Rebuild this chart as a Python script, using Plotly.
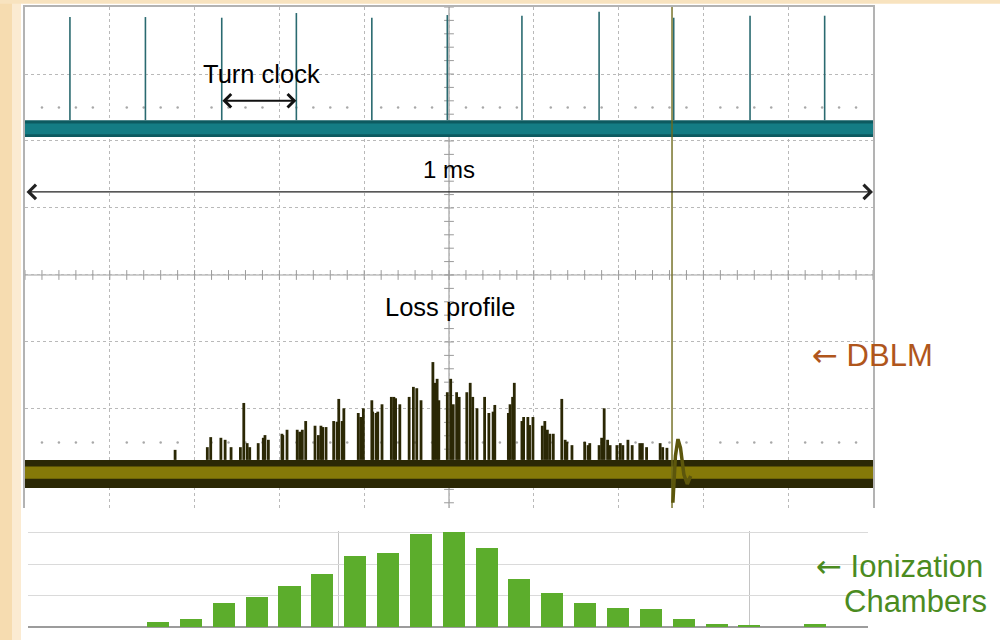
import plotly.graph_objects as go

# ---------------- Oscilloscope (time in µs, 100 µs/div; vertical in divisions) -------------
clock_t = [53, 142, 232, 320, 409, 498, 586, 677, 765, 855, 943]
clock_peak = [3.85, 3.85, 3.84, 3.91, 3.84, 3.88, 3.87, 3.93, 3.84, 3.87, 3.87]
clock_band = [2.06, 2.31]          # lower / upper edge of the turn-clock noise band
clock_core = [2.10, 2.26]

dblm_t = [177, 215, 219, 231, 236, 243, 254, 258, 262, 265, 275, 281, 283, 287,
          303, 304, 309, 321, 324, 327, 331, 342, 346, 349, 351, 355, 364, 368, 370, 374, 376,
          393, 396, 399, 409, 410, 414, 416, 421, 432, 435, 437, 442, 453, 458, 462, 467,
          481, 483, 486, 488, 498, 502, 505, 509, 512, 521, 525, 528, 533, 542, 547, 552, 554,
          570, 572, 575, 577, 586, 588, 593, 595, 599, 610, 613, 616, 619, 623,
          633, 637, 639, 645, 660, 664, 666, 677, 680, 683, 687, 690,
          698, 702, 705, 711, 716, 725, 728, 733, 749, 752, 757]
dblm_peak = [-2.61, -2.57, -2.42, -2.43, -2.46, -2.57, -2.57, -1.91, -2.51, -2.57, -2.51, -2.43, -2.39, -2.46,
             -2.37, -2.39, -2.31, -2.31, -2.34, -2.31, -2.18, -2.25, -2.39, -2.25, -2.27, -2.27, -2.18, -2.19, -1.85, -2.18, -1.99,
             -2.06, -2.12, -1.99, -1.87, -2.04, -2.06, -2.04, -1.93, -1.82, -1.82, -1.84, -1.93, -1.82, -1.67, -1.69, -1.87,
             -1.30, -1.61, -1.55, -1.87, -1.75, -1.55, -1.93, -1.75, -1.82, -1.75, -1.61, -1.82, -1.99, -1.82, -2.06, -2.04, -1.94,
             -2.06, -1.93, -1.82, -1.61, -2.18, -2.12, -2.12, -2.24, -2.12, -2.25, -2.18, -2.31, -2.37, -2.37,
             -1.85, -2.46, -2.49, -2.54, -2.49, -2.54, -2.51, -2.54, -2.43, -1.99, -2.46, -2.54,
             -2.54, -2.51, -2.54, -2.46, -2.54, -2.51, -2.51, -2.57, -2.51, -2.57, -2.58]
dblm_band = [-3.18, -2.76]
dblm_core = [-3.04, -2.86]
glitch_t = [763, 763]
glitch_v = [4.0, -3.478]
pulse_t = [764, 767, 770, 773, 777, 781, 785]
pulse_v = [-3.4, -2.7, -2.45, -2.58, -2.98, -3.12, -3.0]

# ---------------- Ionization chambers -------------------------------------------------------
ic_pos = list(range(1, 22))
ic_val = [0.17, 0.26, 0.77, 0.94, 1.29, 1.67, 2.25, 2.34, 2.96, 3.02, 2.51,
          1.54, 1.07, 0.75, 0.60, 0.56, 0.25, 0.10, 0.05, 0.0, 0.08]

T0, T1 = 0, 1000
Y0, Y1 = -3.478, 4.0

TEAL_DARK = "#0d5a60"
TEAL = "#147c84"
TEAL_SPIKE = "#2a6a70"
OLIVE_DARK = "#2b2805"
OLIVE = "#857908"
GRID = "#b9b9b9"

fig = go.Figure()


def band(lo, hi, color):
    fig.add_trace(go.Scatter(x=[T0, T1], y=[lo, lo], mode="lines", line=dict(width=0, color=color),
                             hoverinfo="skip", showlegend=False))
    fig.add_trace(go.Scatter(x=[T0, T1], y=[hi, hi], mode="lines", line=dict(width=0, color=color),
                             fill="tonexty", fillcolor=color, hoverinfo="skip", showlegend=False))


def spikes(ts, peaks, base, color, width):
    xs, ys = [], []
    for t, p in zip(ts, peaks):
        xs += [t, t, None]
        ys += [base, p, None]
    fig.add_trace(go.Scatter(x=xs, y=ys, mode="lines", line=dict(color=color, width=width),
                             hoverinfo="skip", showlegend=False))


# minor graticule dots and centre-cross ticks
dot_t = [t for t in range(0, 1001, 20) if t % 100 != 0]
fig.add_trace(go.Scatter(x=dot_t * 2, y=[2.5] * len(dot_t) + [-2.5] * len(dot_t), mode="markers",
                         marker=dict(size=2.5, color="#a8a8a8"), hoverinfo="skip", showlegend=False))
tick_t = [t for t in range(0, 1001, 20)]
fig.add_trace(go.Scatter(x=tick_t, y=[0] * len(tick_t), mode="markers",
                         marker=dict(symbol="line-ns", size=7, line=dict(color="#9a9a9a", width=1)),
                         hoverinfo="skip", showlegend=False))
tick_v = [round(-3.4 + 0.2 * i, 2) for i in range(38)]
fig.add_trace(go.Scatter(x=[500] * len(tick_v), y=tick_v, mode="markers",
                         marker=dict(symbol="line-ew", size=7, line=dict(color="#9a9a9a", width=1)),
                         hoverinfo="skip", showlegend=False))

# turn clock channel
band(clock_band[0], clock_band[1], TEAL_DARK)
band(clock_core[0], clock_core[1], TEAL)
spikes(clock_t, clock_peak, clock_band[1], TEAL_SPIKE, 1.6)

# DBLM channel
band(dblm_band[0], dblm_band[1], OLIVE_DARK)
band(dblm_core[0], dblm_core[1], OLIVE)
spikes(dblm_t, dblm_peak, dblm_band[1], OLIVE_DARK, 2.8)
fig.add_trace(go.Scatter(x=glitch_t, y=glitch_v, mode="lines", line=dict(color="#6f6a1c", width=1.4),
                         hoverinfo="skip", showlegend=False))
fig.add_trace(go.Scatter(x=pulse_t, y=pulse_v, mode="lines", line=dict(color="#5c560c", width=3.5),
                         hoverinfo="skip", showlegend=False))

# Ionization chamber bars
fig.add_trace(go.Bar(x=ic_pos, y=ic_val, width=0.67, marker=dict(color="#5cad2c", line=dict(width=0)),
                     xaxis="x2", yaxis="y2", hoverinfo="skip", showlegend=False))

FONT = "Liberation Sans, Arial, Helvetica, sans-serif"
ARROW = '<span style="font-family:DejaVu Sans">←</span>'
ann = [
    dict(x=279, y=3.0, xref="x", yref="y", text="Turn clock", showarrow=False,
         font=dict(family=FONT, size=25.5, color="#000000")),
    dict(x=320, y=2.6, ax=231, ay=2.6, xref="x", yref="y", axref="x", ayref="y", text="",
         showarrow=True, arrowhead=4, startarrowhead=4, arrowside="end+start", arrowsize=1.3,
         startarrowsize=1.3, arrowwidth=2, arrowcolor="#111111", standoff=0, startstandoff=0),
    dict(x=500, y=1.57, xref="x", yref="y", text="1 ms", showarrow=False,
         font=dict(family=FONT, size=24, color="#000000")),
    dict(x=1000, y=1.24, ax=0, ay=1.24, xref="x", yref="y", axref="x", ayref="y", text="",
         showarrow=True, arrowhead=4, startarrowhead=4, arrowside="end+start", arrowsize=2.0,
         startarrowsize=2.0, arrowwidth=1.4, arrowcolor="#222222", standoff=0, startstandoff=0),
    dict(x=501, y=-0.48, xref="x", yref="y", text="Loss profile", showarrow=False,
         font=dict(family=FONT, size=25.5, color="#000000")),
    dict(x=0.810, y=(640 - 355) / 640, xref="paper", yref="paper", xanchor="left", yanchor="middle",
         text=ARROW + " DBLM", showarrow=False, font=dict(family=FONT, size=31, color="#b0561c")),
    dict(x=0.814, y=(640 - 566) / 640, xref="paper", yref="paper", xanchor="left", yanchor="middle",
         text=ARROW + " Ionization", showarrow=False, font=dict(family=FONT, size=31, color="#4b8b1f")),
    dict(x=0.989, y=(640 - 601) / 640, xref="paper", yref="paper", xanchor="right", yanchor="middle",
         text="Chambers", showarrow=False, font=dict(family=FONT, size=31, color="#4b8b1f")),
]

shapes = [
    # background beige strips
    dict(type="rect", xref="paper", yref="paper", x0=0, x1=0.012, y0=0, y1=1, layer="below",
         fillcolor="#f6dcb0", line=dict(width=0)),
    dict(type="rect", xref="paper", yref="paper", x0=0.012, x1=0.021, y0=0, y1=1, layer="below",
         fillcolor="#fbebd2", line=dict(width=0)),
    dict(type="rect", xref="paper", yref="paper", x0=0, x1=1, y0=0.994, y1=1, layer="below",
         fillcolor="#f8e3bf", line=dict(width=0)),
    # centre cross of the graticule
    dict(type="line", xref="x", yref="y", x0=T0, x1=T1, y0=0, y1=0, layer="below",
         line=dict(color="#a0a0a0", width=1.2)),
    dict(type="line", xref="x", yref="y", x0=500, x1=500, y0=Y0, y1=Y1, layer="below",
         line=dict(color="#a0a0a0", width=1.2)),
]

fig.update_layout(
    width=1000, height=640, margin=dict(l=0, r=0, t=0, b=0),
    paper_bgcolor="white", plot_bgcolor="white", showlegend=False,
    annotations=ann, shapes=shapes, bargap=0,
    xaxis=dict(domain=[0.025, 0.873], range=[T0, T1], tickvals=list(range(0, 1001, 100)),
               showgrid=True, gridcolor=GRID, griddash="dot", gridwidth=1, showticklabels=False,
               ticks="", zeroline=False, showline=True, linecolor="#b3b3b3", linewidth=1.5,
               side="top", anchor="y", fixedrange=True),
    yaxis=dict(domain=[(640 - 508) / 640, (640 - 7) / 640], range=[Y0, Y1], tickvals=list(range(-3, 5)),
               showgrid=True, gridcolor=GRID, griddash="dot", gridwidth=1, showticklabels=False,
               ticks="", zeroline=False, showline=True, mirror=True, linecolor="#b3b3b3", linewidth=1.5,
               anchor="x", fixedrange=True),
    xaxis2=dict(domain=[0.028, 0.868], range=[-2.96, 22.61], tickvals=[6.5, 19], showgrid=True,
                gridcolor="#c4c4c4", gridwidth=1.2, showticklabels=False, ticks="", zeroline=False,
                showline=False, anchor="y2", fixedrange=True),
    yaxis2=dict(domain=[(640 - 627) / 640, (640 - 531) / 640], range=[0, 3.05], tickvals=[1, 2, 3],
                showgrid=True, gridcolor="#dadada", gridwidth=1.2, showticklabels=False, ticks="",
                zeroline=True, zerolinecolor="#9c9c9c", zerolinewidth=1.6, showline=False,
                anchor="x2", fixedrange=True),
)

fig.write_html("out.html", config={"displayModeBar": False},
               post_script="document.body.style.margin='0';")
